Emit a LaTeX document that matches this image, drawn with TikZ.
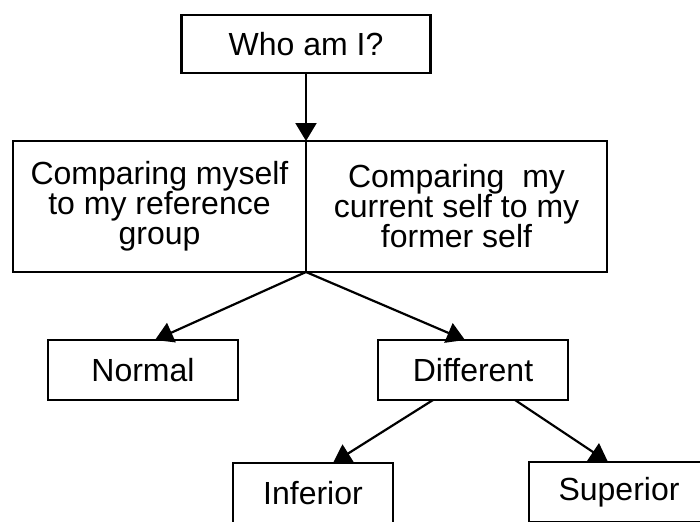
\documentclass[tikz,border=0pt]{standalone}
\usepackage{fontspec}
\setmainfont{Liberation Sans}
\usetikzlibrary{arrows.meta,positioning}
\begin{document}
\begin{tikzpicture}[
            x=0.5pt, y=-0.5pt,
            node distance = 0pt,
            SelfBox/.style={draw, line width=1.1pt, align=center, inner sep=0pt, outer sep=0pt,
                font=\fontsize{16}{15}\selectfont},
            SelfArrow/.style={line width=1.1pt, -{Triangle[length=9pt, width=10.5pt]}},
            ]
            \useasboundingbox (0,0) rectangle (700,521);
            \clip (0,0) rectangle (700,521);

            \node[SelfBox, minimum width=124.5pt, minimum height=29pt] (who) at (306,44) {Who am I?};

            \node[SelfBox, minimum width=146.5pt, minimum height=65.5pt] (group) at (159.5,206.5)
                {Comparing myself\\to my reference\\group};
            \node[SelfBox, minimum width=150.5pt, minimum height=65.5pt, right=of group] (former)
                {Comparing\ \ my\\current self to my\\former self};

            \node[SelfBox, minimum width=95pt, minimum height=30pt] (normal) at (143,370) {Normal};
            \node[SelfBox, minimum width=95pt, minimum height=30pt] (different) at (473,370) {Different};
            \node[SelfBox, minimum width=80pt, minimum height=30pt] (inferior) at (313,493) {Inferior};
            \node[SelfBox, minimum width=90pt, minimum height=30pt] (superior) at (619,492) {Superior};

            \draw[SelfArrow] (who) -- (group.north east);
            \draw[SelfArrow] (group.south east) -- ([xshift=6pt]normal.north);
            \draw[SelfArrow] (group.south east) -- ([xshift=-4pt]different.north);
            \draw[SelfArrow] ([xshift=-20pt]different.south) -- ([xshift=10pt]inferior.north);
            \draw[SelfArrow] ([xshift=21pt]different.south) -- ([xshift=-5.5pt]superior.north);
        \end{tikzpicture}
\end{document}
